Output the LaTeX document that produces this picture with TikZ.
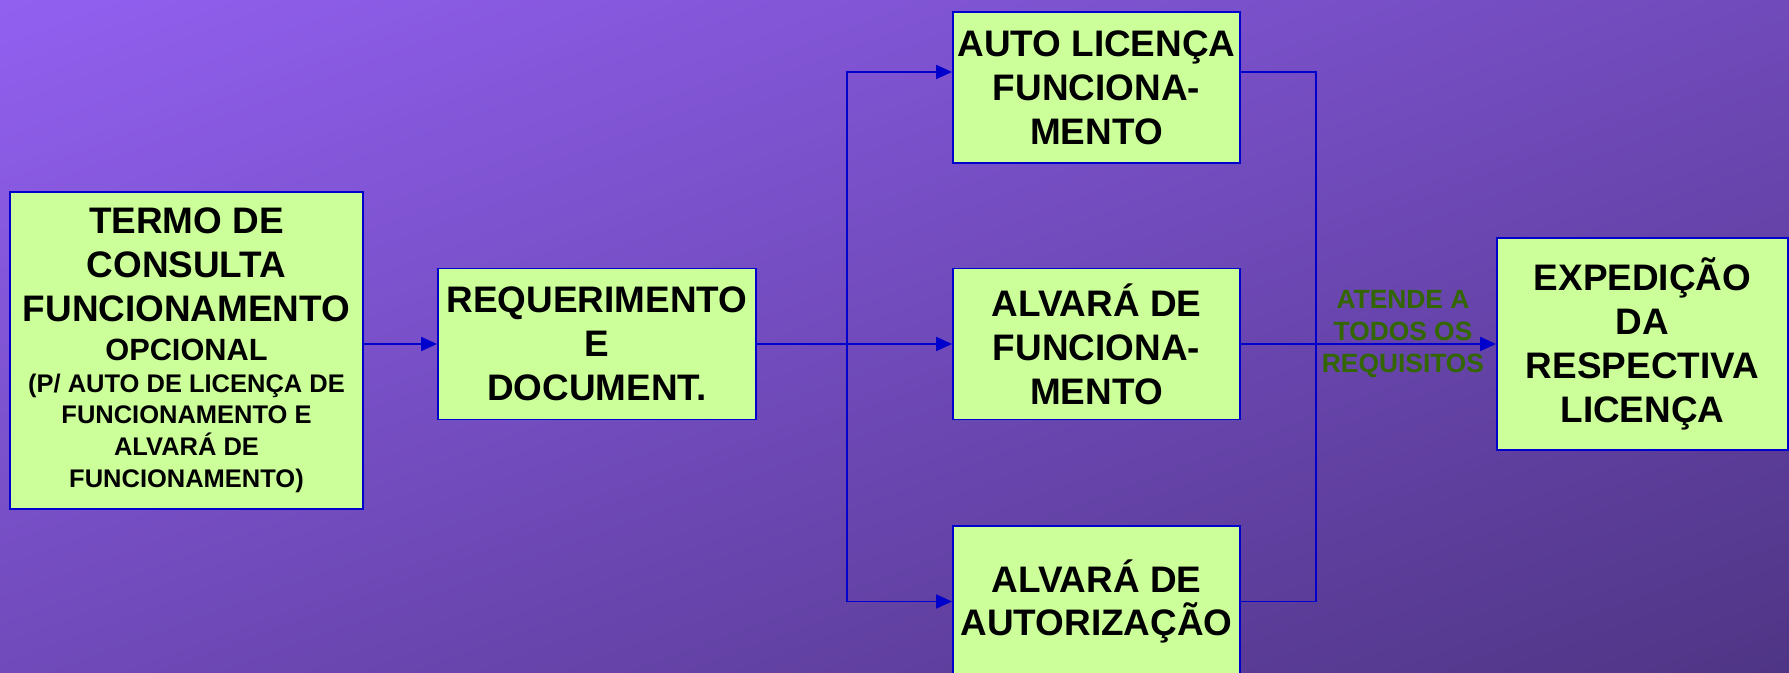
\documentclass[tikz,border=0pt]{standalone}
\usepackage{fontspec}
\setmainfont{Liberation Sans}
\usetikzlibrary{arrows.meta, positioning, shadings}

\definecolor{bgtopleft}{HTML}{9260F0}
\definecolor{bgmid}{HTML}{704ABA}
\definecolor{bgbotright}{HTML}{4F3585}
\definecolor{boxfill}{HTML}{CCFF99}
\definecolor{wireblue}{HTML}{0000CC}
\definecolor{labelgreen}{HTML}{336600}

\begin{document}
\begin{tikzpicture}[
    >={Triangle[length=0.32cm, width=0.28cm]},
    line width=1.1pt,
    font=\bfseries\fontsize{21}{25}\selectfont
]

    % Styles for the boxes and the blue wires
    \tikzset{stepbox/.style={
        draw=wireblue,
        fill=boxfill,
        align=flush center,
        inner xsep=0.08cm,
        inner ysep=0pt,
        minimum height=3.02cm
    }}
    \tikzset{wire/.style={draw=wireblue}}
    \tikzset{flow/.style={draw=wireblue, ->}}

    % Background (also fixes the page size)
    \clip (0,0) rectangle (35.78,13.46);
    \shade[upper left=bgtopleft, upper right=bgmid,
           lower left=bgmid, lower right=bgbotright]
        (0,0) rectangle (35.78,13.46);

    % Left column
    \node[stepbox, text width=6.9cm, minimum height=6.34cm] (termo) at (3.73, 6.45)
        {TERMO DE\\ CONSULTA\\ FUNCIONAMENTO\par
         {\fontsize{17.5}{22}\selectfont OPCIONAL\par}
         {\fontsize{14.5}{18.2}\selectfont (P/ AUTO DE LICENÇA DE\\ FUNCIONAMENTO E\\ ALVARÁ DE\\ FUNCIONAMENTO)\par}};

    \node[stepbox, text width=6.2cm] (req) at (11.94, 6.58)
        {REQUERIMENTO\\ E\\ DOCUMENT.};

    % The three licence types
    \node[stepbox, text width=5.58cm] (auto) at (21.93, 11.71)
        {AUTO LICENÇA\\ FUNCIONA-\\ MENTO};
    \node[stepbox, text width=5.58cm] (alvfunc) at (21.93, 6.58)
        {ALVARÁ DE\\ FUNCIONA-\\ MENTO};
    \node[stepbox, text width=5.58cm] (alvaut) at (21.93, 1.43)
        {ALVARÁ DE\\ AUTORIZAÇÃO};

    % Result
    \node[stepbox, text width=5.66cm, minimum height=4.24cm] (expedicao) at (32.85, 6.58)
        {EXPEDIÇÃO\\ DA\\ RESPECTIVA\\ LICENÇA};

    \node[font=\bfseries\fontsize{15}{18.2}\selectfont, text=labelgreen, align=center]
        (atende) at (28.06, 6.78) {ATENDE A\\ TODOS OS\\ REQUISITOS};

    % Split and merge points
    \coordinate (split) at (16.94, 6.58);
    \coordinate (merge) at (26.32, 6.58);

    % Wiring
    \draw[flow] (termo.east |- req.west) -- (req.west);
    \draw[flow] (req.east) -- (alvfunc.west);
    \draw[flow] (split) |- ([yshift=0.31cm]auto.west);
    \draw[flow] (split) |- (alvaut.west);
    \draw[wire] ([yshift=0.31cm]auto.east) -| (merge);
    \draw[wire] (alvaut.east) -| (merge);
    \draw[flow] (alvfunc.east) -- (expedicao.west);

\end{tikzpicture}
\end{document}
